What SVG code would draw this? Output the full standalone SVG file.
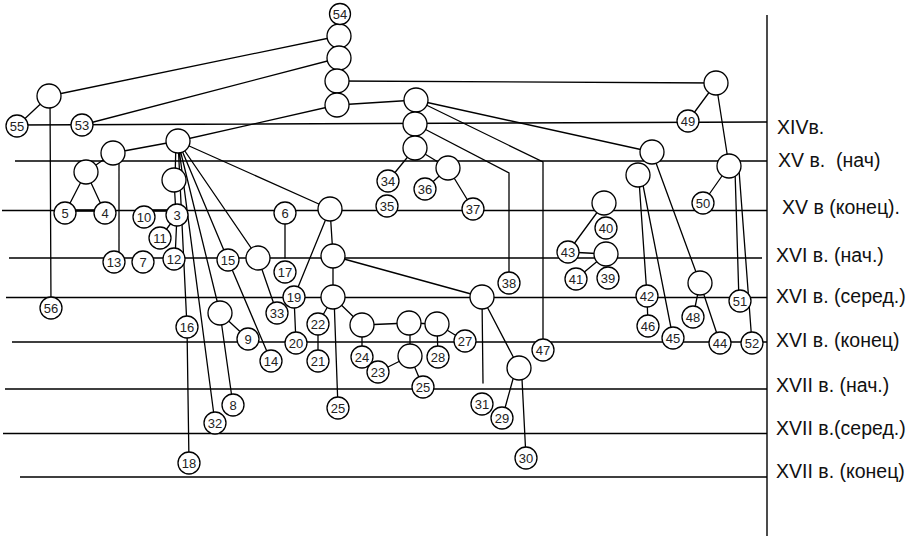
<svg xmlns="http://www.w3.org/2000/svg" width="906" height="536" viewBox="0 0 906 536">
<style>
.ln{stroke:#000;stroke-width:1.3;fill:none;stroke-linecap:round}
.th{stroke:#000;stroke-width:2.6;fill:none}
.ax{stroke:#000;stroke-width:1.4;fill:none}
.n circle{fill:#fff;stroke:#000;stroke-width:1.3}
.n text{font-family:"Liberation Sans",Arial,sans-serif;font-size:13px;text-anchor:middle;fill:#222}
.lb{font-family:"Liberation Sans",Arial,sans-serif;font-size:19.5px;fill:#111}
</style>
<rect width="906" height="536" fill="#fff"/>
<g id="axes">
<path class="ax" d="M17 125L767 122M15 161H767M2 210.5H767M9 258H762M6 297.5H767M12 342H767M5 389H767M3 433.5H767M20 477H767M767 15V536"/>
</g>
<g id="labels">
<text class="lb" x="777" y="134">XIVв.</text>
<text class="lb" x="778" y="167" xml:space="preserve">XV в.  (нач)</text>
<text class="lb" x="782" y="214">XV в (конец).</text>
<text class="lb" x="776" y="262">XVI в. (нач.)</text>
<text class="lb" x="776" y="303">XVI в. (серед.)</text>
<text class="lb" x="776" y="347">XVI в. (конец)</text>
<text class="lb" x="776" y="392">XVII в. (нач.)</text>
<text class="lb" x="776" y="435">XVII в.(серед.)</text>
<text class="lb" x="776" y="478">XVII в. (конец)</text>
</g>
<g id="connectors">
<path class="ln" d="M49 96L17 126M49 96L339 36M50 96L51 308M82 125L339 58M178 141L337 105M337 81L716 83M337 105L416 100M416 100L652 152M416 100L543 162L543 350M415 124L509 173L509 283M415 148L448 168M415 148L388 181M448 168L425 189M448 168L473 209"/>
<path class="ln" d="M716 83L688 121M716 83L729 166M729 166L703 203M735 170L739 301M739 170L752 343M652 152L700 283M700 283L693 317M700 283L720 343M639 180L647 296M642 180L673 338M647 296L648 326M604 203L568 252M568 252L606 254M606 254L576 279"/>
<path class="ln" d="M113 153L178 141M113 153L86 172M119 160L119 262M86 172L65 213M86 172L105 213M176 141L175 180M174 180L176 215M177 215L175 259M177 215L160 238"/>
<path class="th" d="M144 210.5H177M65 210.5H105"/>
<path class="ln" d="M178 141L187 327M178 141L215 423M178 141L220 313M178 141L228 260M178 141L258 258M178 141L330 209M228 260L271 361M258 258L277 313M220 313L248 339M220 313L233 405M187 327L189 463M285 213L285 258"/>
<path class="ln" d="M330 209L333 256M333 256L333 297M330 209L294 297M294 297L296 343M333 256L482 297M333 297L318 324M333 297L362 325M334 297L338 408M318 324L318 361M362 325L409 323M409 323L437 324M410 323L410 356M437 324L438 357M437 324L465 341M362 325L362 357M378 372L410 356M410 356L423 387M482 297L483 383M482 297L519 368M513 379L505 408M522 379L526 458"/>
</g>
<g id="nA" class="n"><circle cx="49" cy="96" r="12"/></g>
<g id="nE1" class="n"><circle cx="339" cy="36" r="12"/></g>
<g id="nE2" class="n"><circle cx="339" cy="58" r="12"/></g>
<g id="nE3" class="n"><circle cx="337" cy="81" r="12"/></g>
<g id="nE4" class="n"><circle cx="337" cy="105" r="12"/></g>
<g id="nB" class="n"><circle cx="113" cy="153" r="12"/></g>
<g id="nC" class="n"><circle cx="178" cy="141" r="12"/></g>
<g id="nD" class="n"><circle cx="86" cy="172" r="12"/></g>
<g id="nP" class="n"><circle cx="174" cy="180" r="12"/></g>
<g id="nG" class="n"><circle cx="416" cy="100" r="12"/></g>
<g id="nH" class="n"><circle cx="415" cy="124" r="12"/></g>
<g id="nI" class="n"><circle cx="415" cy="148" r="12"/></g>
<g id="nK" class="n"><circle cx="448" cy="168" r="12"/></g>
<g id="nL" class="n"><circle cx="330" cy="209" r="12"/></g>
<g id="nM" class="n"><circle cx="333" cy="256" r="12"/></g>
<g id="nN" class="n"><circle cx="333" cy="297" r="12"/></g>
<g id="nO" class="n"><circle cx="482" cy="297" r="12"/></g>
<g id="nQ" class="n"><circle cx="258" cy="258" r="12"/></g>
<g id="nR" class="n"><circle cx="220" cy="313" r="12"/></g>
<g id="nS" class="n"><circle cx="362" cy="325" r="12"/></g>
<g id="nT" class="n"><circle cx="409" cy="323" r="12"/></g>
<g id="nU" class="n"><circle cx="437" cy="324" r="12"/></g>
<g id="nV" class="n"><circle cx="410" cy="356" r="12"/></g>
<g id="nW" class="n"><circle cx="519" cy="368" r="12"/></g>
<g id="nF" class="n"><circle cx="716" cy="83" r="12"/></g>
<g id="nJ" class="n"><circle cx="652" cy="152" r="12"/></g>
<g id="nZ" class="n"><circle cx="638" cy="175" r="12"/></g>
<g id="nAB" class="n"><circle cx="729" cy="166" r="12"/></g>
<g id="nAA" class="n"><circle cx="700" cy="283" r="12"/></g>
<g id="nX" class="n"><circle cx="604" cy="203" r="12"/></g>
<g id="nY" class="n"><circle cx="606" cy="254" r="12"/></g>
<g id="n54" class="n"><circle cx="340" cy="14" r="10.5"/><text x="340" y="18.6">54</text></g>
<g id="n55" class="n"><circle cx="17" cy="126" r="11"/><text x="17" y="130.6">55</text></g>
<g id="n53" class="n"><circle cx="82" cy="125" r="11"/><text x="82" y="129.6">53</text></g>
<g id="n56" class="n"><circle cx="51" cy="308" r="11"/><text x="51" y="312.6">56</text></g>
<g id="n5" class="n"><circle cx="65" cy="213" r="11"/><text x="65" y="217.6">5</text></g>
<g id="n4" class="n"><circle cx="105" cy="213" r="11"/><text x="105" y="217.6">4</text></g>
<g id="n10" class="n"><circle cx="144" cy="217" r="11"/><text x="144" y="221.6">10</text></g>
<g id="n3" class="n"><circle cx="177" cy="215" r="11"/><text x="177" y="219.6">3</text></g>
<g id="n11" class="n"><circle cx="160" cy="238" r="11"/><text x="160" y="242.6">11</text></g>
<g id="n13" class="n"><circle cx="114" cy="262" r="11"/><text x="114" y="266.6">13</text></g>
<g id="n7" class="n"><circle cx="143" cy="262" r="11"/><text x="143" y="266.6">7</text></g>
<g id="n12" class="n"><circle cx="174" cy="259" r="11"/><text x="174" y="263.6">12</text></g>
<g id="n16" class="n"><circle cx="187" cy="327" r="11"/><text x="187" y="331.6">16</text></g>
<g id="n18" class="n"><circle cx="189" cy="463" r="11"/><text x="189" y="467.6">18</text></g>
<g id="n32" class="n"><circle cx="215" cy="423" r="11"/><text x="215" y="427.6">32</text></g>
<g id="n8" class="n"><circle cx="233" cy="405" r="11"/><text x="233" y="409.6">8</text></g>
<g id="n9" class="n"><circle cx="248" cy="339" r="11"/><text x="248" y="343.6">9</text></g>
<g id="n14" class="n"><circle cx="271" cy="361" r="11"/><text x="271" y="365.6">14</text></g>
<g id="n15" class="n"><circle cx="228" cy="260" r="11"/><text x="228" y="264.6">15</text></g>
<g id="n6" class="n"><circle cx="285" cy="213" r="11"/><text x="285" y="217.6">6</text></g>
<g id="n17" class="n"><circle cx="285" cy="272" r="11"/><text x="285" y="276.6">17</text></g>
<g id="n19" class="n"><circle cx="294" cy="297" r="11"/><text x="294" y="301.6">19</text></g>
<g id="n33" class="n"><circle cx="277" cy="313" r="11"/><text x="277" y="317.6">33</text></g>
<g id="n20" class="n"><circle cx="296" cy="343" r="11"/><text x="296" y="347.6">20</text></g>
<g id="n22" class="n"><circle cx="318" cy="324" r="11"/><text x="318" y="328.6">22</text></g>
<g id="n21" class="n"><circle cx="318" cy="361" r="11"/><text x="318" y="365.6">21</text></g>
<g id="n25a" class="n"><circle cx="338" cy="408" r="11"/><text x="338" y="412.6">25</text></g>
<g id="n24" class="n"><circle cx="362" cy="357" r="11"/><text x="362" y="361.6">24</text></g>
<g id="n23" class="n"><circle cx="378" cy="372" r="11"/><text x="378" y="376.6">23</text></g>
<g id="n25b" class="n"><circle cx="423" cy="387" r="11"/><text x="423" y="391.6">25</text></g>
<g id="n27" class="n"><circle cx="465" cy="341" r="11"/><text x="465" y="345.6">27</text></g>
<g id="n28" class="n"><circle cx="438" cy="357" r="11"/><text x="438" y="361.6">28</text></g>
<g id="n31" class="n"><circle cx="482" cy="404" r="11"/><text x="482" y="408.6">31</text></g>
<g id="n29" class="n"><circle cx="502" cy="418" r="11"/><text x="502" y="422.6">29</text></g>
<g id="n30" class="n"><circle cx="526" cy="458" r="11"/><text x="526" y="462.6">30</text></g>
<g id="n34" class="n"><circle cx="388" cy="181" r="11"/><text x="388" y="185.6">34</text></g>
<g id="n35" class="n"><circle cx="387" cy="206" r="11"/><text x="387" y="210.6">35</text></g>
<g id="n36" class="n"><circle cx="425" cy="189" r="11"/><text x="425" y="193.6">36</text></g>
<g id="n37" class="n"><circle cx="473" cy="209" r="11"/><text x="473" y="213.6">37</text></g>
<g id="n38" class="n"><circle cx="509" cy="283" r="11"/><text x="509" y="287.6">38</text></g>
<g id="n47" class="n"><circle cx="543" cy="350" r="11"/><text x="543" y="354.6">47</text></g>
<g id="n40" class="n"><circle cx="606" cy="228" r="11"/><text x="606" y="232.6">40</text></g>
<g id="n43" class="n"><circle cx="568" cy="252" r="11"/><text x="568" y="256.6">43</text></g>
<g id="n41" class="n"><circle cx="576" cy="279" r="11"/><text x="576" y="283.6">41</text></g>
<g id="n39" class="n"><circle cx="608" cy="278" r="11"/><text x="608" y="282.6">39</text></g>
<g id="n42" class="n"><circle cx="647" cy="296" r="11"/><text x="647" y="300.6">42</text></g>
<g id="n46" class="n"><circle cx="648" cy="326" r="11"/><text x="648" y="330.6">46</text></g>
<g id="n45" class="n"><circle cx="673" cy="338" r="11"/><text x="673" y="342.6">45</text></g>
<g id="n48" class="n"><circle cx="693" cy="317" r="11"/><text x="693" y="321.6">48</text></g>
<g id="n44" class="n"><circle cx="720" cy="343" r="11"/><text x="720" y="347.6">44</text></g>
<g id="n52" class="n"><circle cx="752" cy="343" r="11"/><text x="752" y="347.6">52</text></g>
<g id="n51" class="n"><circle cx="740" cy="301" r="11"/><text x="740" y="305.6">51</text></g>
<g id="n50" class="n"><circle cx="703" cy="203" r="11"/><text x="703" y="207.6">50</text></g>
<g id="n49" class="n"><circle cx="688" cy="121" r="11"/><text x="688" y="125.6">49</text></g>
</svg>
